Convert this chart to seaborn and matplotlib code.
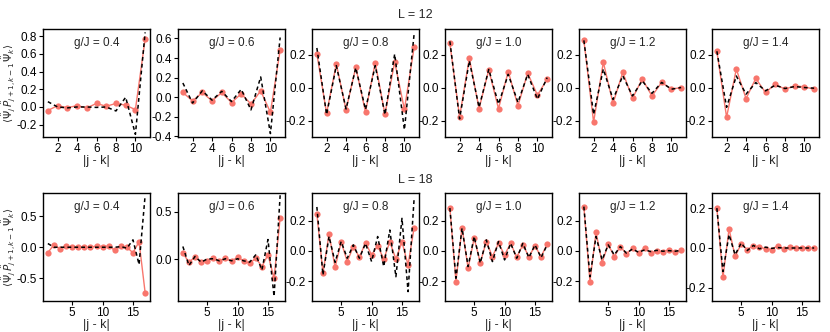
import numpy as np
import pandas as pd
import matplotlib
matplotlib.use("Agg")
import matplotlib.pyplot as plt
import seaborn as sns

# g/J values per panel
g_vals = ["0.4", "0.6", "0.8", "1.0", "1.2", "1.4"]

# L = 12 : exact (red points) and approximation (black dashed), |j-k| = 1..11
l12_exact = [
    [-0.04, 0.015, -0.008, 0.015, -0.01, 0.04, 0.008, 0.04, 0.02, -0.03, 0.77],
    [0.048, -0.038, 0.048, -0.038, 0.048, -0.055, 0.035, -0.07, 0.065, -0.155, 0.48],
    [0.205, -0.156, 0.142, -0.135, 0.123, -0.148, 0.15, -0.162, 0.156, -0.133, 0.244],
    [0.268, -0.178, 0.178, -0.128, 0.107, -0.128, 0.097, -0.11, 0.087, -0.046, 0.05],
    [0.286, -0.21, 0.153, -0.096, 0.092, -0.065, 0.051, -0.051, 0.031, -0.01, 0.0],
    [0.22, -0.18, 0.112, -0.067, 0.055, -0.03, 0.02, -0.01, 0.01, 0.004, -0.01],
]
l12_approx = [
    [0.06, 0.0, -0.01, 0.0, 0.0, -0.005, 0.0, -0.045, 0.11, -0.31, 0.845],
    [0.145, -0.06, 0.065, -0.03, 0.06, -0.045, 0.08, -0.13, 0.207, -0.372, 0.61],
    [0.24, -0.164, 0.133, -0.13, 0.12, -0.133, 0.133, -0.164, 0.203, -0.256, 0.326],
    [0.28, -0.19, 0.162, -0.12, 0.11, -0.1, 0.08, -0.09, 0.08, -0.07, 0.06],
    [0.286, -0.163, 0.112, -0.072, 0.071, -0.051, 0.041, -0.035, 0.031, -0.01, 0.0],
    [0.22, -0.12, 0.07, -0.04, 0.03, -0.02, 0.014, -0.006, 0.006, 0.0, -0.004],
]

# L = 18 : |j-k| = 1..17
l18_exact = [
    [-0.087, 0.04, -0.027, 0.02, 0.0, 0.0, 0.0, 0.0, 0.02, 0.01, 0.02, -0.05, 0.02, 0.0, -0.09, 0.09, -0.735],
    [0.067, -0.028, 0.025, -0.028, -0.014, 0.014, -0.014, 0.014, -0.02, 0.025, -0.014, -0.04, 0.014, -0.074, 0.05, -0.197, 0.437],
    [0.246, -0.147, 0.112, -0.108, 0.059, -0.07, 0.029, -0.042, 0.055, -0.026, 0.033, -0.053, 0.059, -0.053, 0.059, -0.092, 0.154],
    [0.283, -0.202, 0.154, -0.114, 0.084, -0.077, 0.062, -0.037, 0.05, -0.026, 0.05, -0.042, 0.04, -0.037, 0.033, -0.037, 0.044],
    [0.292, -0.202, 0.123, -0.077, 0.044, -0.037, 0.029, -0.02, 0.018, -0.015, 0.022, -0.015, 0.0, -0.004, 0.007, -0.009, 0.004],
    [0.2, -0.148, 0.096, -0.042, 0.02, -0.008, 0.012, 0.003, -0.003, -0.008, 0.012, -0.005, 0.007, 0.001, 0.001, -0.001, 0.0],
]
l18_approx = [
    [0.06, 0.0, 0.0, 0.0, 0.0, 0.0, 0.0, 0.0, 0.0, 0.0, 0.0, 0.0, 0.01, -0.015, 0.12, -0.28, 0.84],
    [0.137, -0.063, 0.032, -0.028, 0.005, 0.008, -0.014, 0.008, -0.014, 0.008, -0.014, -0.028, 0.05, -0.11, 0.21, -0.39, 0.676],
    [0.29, -0.158, 0.095, -0.075, 0.062, -0.048, 0.04, -0.048, 0.05, -0.07, 0.095, -0.103, 0.138, -0.17, 0.215, -0.268, 0.347],
    [0.283, -0.18, 0.15, -0.103, 0.095, -0.08, 0.073, -0.07, 0.062, -0.059, 0.05, -0.048, 0.05, -0.044, 0.04, -0.044, 0.04],
    [0.292, -0.17, 0.095, -0.059, 0.04, -0.026, 0.029, -0.015, 0.013, -0.009, 0.007, -0.004, 0.004, -0.002, 0.002, -0.002, 0.004],
    [0.2, -0.118, 0.067, -0.034, 0.025, -0.013, 0.013, -0.004, 0.004, -0.002, 0.002, 0.0, 0.0, 0.0, 0.0, 0.0, 0.0],
]

# axis limits and ticks
l12_ylim = [(-0.34, 0.883), (-0.407, 0.697), (-0.30, 0.355), (-0.30, 0.355), (-0.30, 0.355), (-0.30, 0.355)]
l12_yticks = [[-0.2, 0.0, 0.2, 0.4, 0.6, 0.8], [-0.4, -0.2, 0.0, 0.2, 0.4, 0.6],
              [-0.2, 0.0, 0.2], [-0.2, 0.0, 0.2], [-0.2, 0.0, 0.2], [-0.2, 0.0, 0.2]]
l18_ylim = [(-0.87, 0.878), (-0.437, 0.70), (-0.33, 0.382), (-0.33, 0.382), (-0.33, 0.382), (-0.266, 0.276)]
l18_yticks = [[-0.5, 0.0, 0.5], [0.0, 0.5], [-0.2, 0.0, 0.2], [-0.2, 0.0, 0.2], [-0.2, 0.0, 0.2], [-0.2, 0.0, 0.2]]

sns.set_theme(style="ticks")
plt.rcParams["font.family"] = ["Liberation Sans", "DejaVu Sans"]
plt.rcParams["axes.unicode_minus"] = False
plt.rcParams["mathtext.fontset"] = "dejavusans"

red = "#F8766D"
W, H = 830, 332
fig = plt.figure(figsize=(W / 100, H / 100), dpi=100)

lefts = [43, 178, 312, 445, 579, 712]
pw = 107
rows = [
    dict(top=29, bot=137, exact=l12_exact, approx=l12_approx, ylim=l12_ylim,
         yticks=l12_yticks, xticks=[2, 4, 6, 8, 10], n=11, title="L = 12", ty=15),
    dict(top=193, bot=301, exact=l18_exact, approx=l18_approx, ylim=l18_ylim,
         yticks=l18_yticks, xticks=[5, 10, 15], n=17, title="L = 18", ty=180),
]
ylab = r"$\langle\hat{\Psi}_j\,\hat{P}_{j+1,k-1}\,\hat{\Psi}_k\rangle$"

for r in rows:
    n = r["n"]
    xs = np.arange(1, n + 1)
    for i, g in enumerate(g_vals):
        ax = fig.add_axes([lefts[i] / W, 1 - r["bot"] / H, pw / W, (r["bot"] - r["top"]) / H])
        df = pd.DataFrame({"d": xs, "exact": r["exact"][i], "approx": r["approx"][i]})
        sns.lineplot(data=df, x="d", y="exact", ax=ax, color=red, lw=1.0,
                     marker="o", markersize=4.5, markeredgewidth=0)
        sns.lineplot(data=df, x="d", y="approx", ax=ax, color="black", lw=1.1,
                     linestyle=(0, (2.5, 2)))
        pad = (n - 1) * 0.05
        ax.set_xlim(1 - pad, n + pad)
        ax.set_ylim(*r["ylim"][i])
        ax.set_xticks(r["xticks"])
        ax.set_yticks(r["yticks"][i])
        ax.set_yticklabels([f"{v:.1f}" for v in r["yticks"][i]])
        ax.tick_params(labelsize=8.5, length=3, width=0.8, pad=1.5, colors="black")
        for s in ax.spines.values():
            s.set_linewidth(1.0)
            s.set_color("black")
        ax.set_xlabel("|j - k|", fontsize=9, labelpad=0)
        if i == 0:
            ax.set_ylabel(ylab, fontsize=7.5)
            ax.yaxis.set_label_coords(-0.24, 0.5)
        else:
            ax.set_ylabel("")
        ax.text(0.5, 0.93, f"g/J = {g}", transform=ax.transAxes, ha="center",
                va="top", fontsize=8.5)
    fig.text(0.5, 1 - r["ty"] / H, r["title"], ha="center", va="center", fontsize=9)

fig.savefig("out.png", dpi=100)
